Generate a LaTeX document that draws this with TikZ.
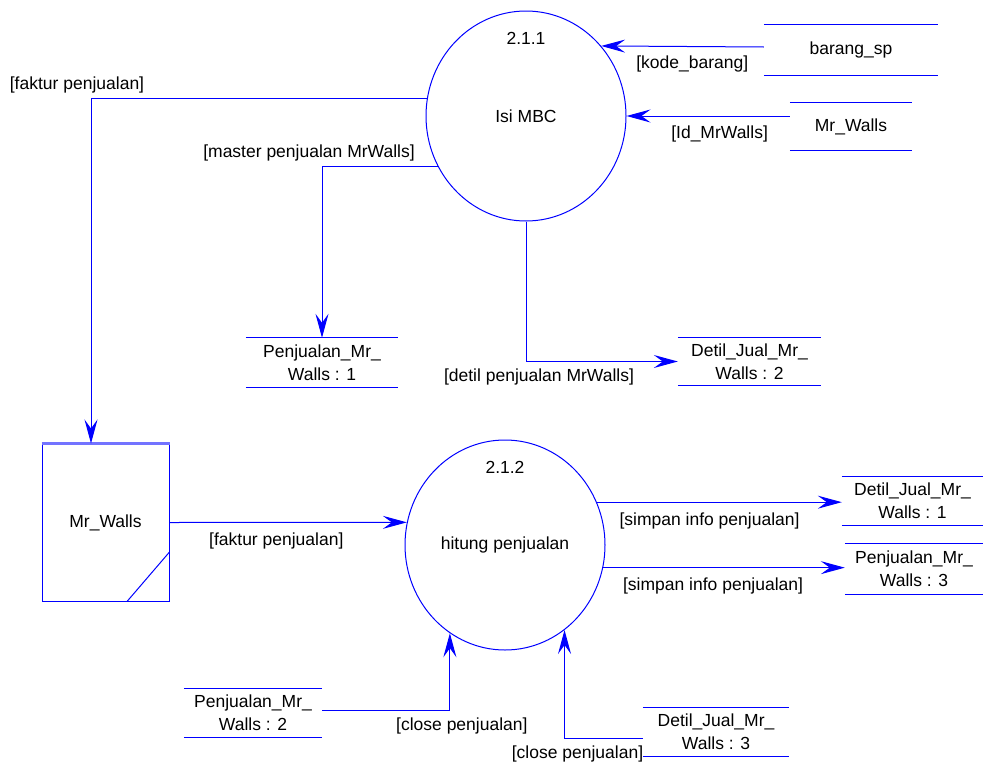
\documentclass[tikz,border=0pt]{standalone}
\usepackage{fontspec}
\setmainfont{Liberation Sans}
\usetikzlibrary{shapes.geometric,arrows.meta,positioning}

\tikzset{
  proc/.style={draw=blue, line width=1pt, ellipse, minimum width=200pt, minimum height=210pt, inner sep=0pt},
  store/.style={rectangle, inner sep=0pt, align=center},
  entity/.style={draw=blue, line width=1pt, rectangle, minimum width=127pt, minimum height=157pt, inner sep=0pt},
  flow/.style={draw=blue, line width=1pt, -{Stealth[length=24pt,width=13pt,inset=9pt]}},
  lbl/.style={inner sep=0pt}
}

\begin{document}
\begin{tikzpicture}[x=1pt, y=-1pt, every node/.style={font=\fontsize{17.5}{23}\selectfont}]
        \useasboundingbox (0,0) rectangle (983,763);

        % proses
        \node[proc] (p1) at (526,116) {Isi MBC};
        \node (n1) at (526,38) {2.1.1};
        \node[proc] (p2) at (505,545) {hitung penjualan};
        \node (n2) at (505,467) {2.1.2};

        % entitas luar
        \node[entity] (ent) at (105.5,522.5) {Mr\_Walls};
        \draw[blue!55, line width=3pt] (ent.north west) -- (ent.north east);
        \draw[blue, line width=1pt] ([yshift=-29.5pt]ent.east) -- ([xshift=21.5pt]ent.south);

        % data store
        \node[store, minimum width=174pt, minimum height=50pt] (bsp) at (851,50) {barang\_sp};
        \node[store, minimum width=122pt, minimum height=47pt] (mrw) at (851,126.5) {Mr\_Walls};
        \node[store, minimum width=152pt, minimum height=49pt] (pj1) at (322,362.5) {Penjualan\_Mr\_\\Walls : 1};
        \node[store, minimum width=143pt, minimum height=47pt] (dj2) at (749.5,361.5) {Detil\_Jual\_Mr\_\\Walls : 2};
        \node[store, minimum width=141pt, minimum height=48pt] (dj1) at (912.5,501) {Detil\_Jual\_Mr\_\\Walls : 1};
        \node[store, minimum width=138pt, minimum height=50pt] (pj3) at (914,569) {Penjualan\_Mr\_\\Walls : 3};
        \node[store, minimum width=138pt, minimum height=48pt] (pj2) at (253,713) {Penjualan\_Mr\_\\Walls : 2};
        \node[store, minimum width=146pt, minimum height=48pt] (dj3) at (716,732) {Detil\_Jual\_Mr\_\\Walls : 3};
        \foreach \s in {bsp,mrw,pj1,dj2,dj1,pj3,pj2,dj3}
            \draw[blue, line width=1pt] (\s.north west) -- (\s.north east) (\s.south west) -- (\s.south east);

        % aliran data
        \draw[flow] ([yshift=3pt]bsp.west) -- node[pos=0.44, below=9pt, lbl] (l3) {[kode\_barang]} (p1.43);
        \draw[flow] ([yshift=10.5pt]mrw.west) -- node[pos=0.43, below=9pt, lbl] (l4) {[Id\_MrWalls]} (p1.east);
        \draw[flow] (p1.170) -| node[pos=0.5, above=5pt, xshift=-14pt, lbl] (l1) {[faktur penjualan]} ([xshift=-14.5pt]ent.north);
        \draw[flow] (p1.210) -| node[pos=0.5, above=5pt, xshift=-13pt, lbl] (l2) {[master penjualan MrWalls]} (pj1.north);
        \draw[flow] (p1.south) |- node[pos=0.5, below=7pt, xshift=13pt, lbl] (l5) {[detil penjualan MrWalls]} (dj2.west);
        \draw[flow] (ent.east) -- node[pos=0.45, below=10pt, lbl] (l6) {[faktur penjualan]} (p2.167);
        \draw[flow] (p2.25) -- node[pos=0.46, below=10pt, lbl] (l7) {[simpan info penjualan]} (p2.25 -| dj1.west);
        \draw[flow] (p2.-13) -- node[pos=0.455, below=10pt, lbl] (l8) {[simpan info penjualan]} (p2.-13 -| pj3.west);
        \draw[flow] ([yshift=3pt]pj2.east) -| node[pos=0.5, below=7pt, xshift=12pt, lbl] (l9) {[close penjualan]} (p2.238);
        \draw[flow] ([yshift=-6pt]dj3.west) -| node[pos=0.5, below=7pt, xshift=13pt, lbl] (l10) {[close penjualan]} (p2.305);
    \end{tikzpicture}
\end{document}
